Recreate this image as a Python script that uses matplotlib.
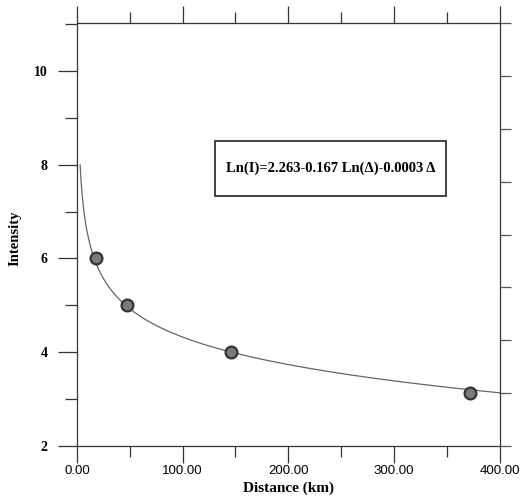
import numpy as np
import matplotlib.pyplot as plt
from matplotlib.patches import Rectangle
from matplotlib.ticker import MultipleLocator, FixedLocator, NullFormatter

# observed intensities
distance = [18, 47, 146, 372]
intensity = [6.0, 5.0, 4.0, 3.13]

# attenuation fit: Ln(I) = a + b Ln(D) + c D
a, b, c = 2.263, -0.167, -0.0003
fit_start, fit_end = 3, 400

x_ticks = [0, 100, 200, 300, 400]
x_labels = ['0.00', '100.00', '200.00', '300.00', '400.00']
y_ticks = [2, 4, 6, 8, 10]

SERIF = 'Liberation Serif'
SANS = 'Liberation Sans'

fig = plt.figure(figsize=(5.2, 4.97), dpi=100)
ax = fig.add_axes([0.148, 0.1026, 0.813, 0.851])

d = np.linspace(fit_start, fit_end, 400)
ax.plot(d, np.exp(a + b * np.log(d) + c * d), color='#666666', lw=0.9, zorder=2)
ax.plot(distance, intensity, 'o', ms=8.5, mfc='#7a7a7a', mec='#333333', mew=1.6, zorder=3)

ax.set_xlim(0, 400)
ax.set_ylim(2, 11.02)

for s in ax.spines.values():
    s.set_color('#333333')
    s.set_linewidth(0.9)

ax.xaxis.set_major_locator(FixedLocator(x_ticks))
ax.xaxis.set_minor_locator(MultipleLocator(50))
ax.set_xticklabels(x_labels, fontfamily=SANS, fontsize=9.5)
ax.yaxis.set_major_locator(FixedLocator(y_ticks))
ax.yaxis.set_minor_locator(MultipleLocator(1))
ax.set_yticklabels([str(v) for v in y_ticks], fontfamily=SERIF, fontweight='bold', fontsize=10)

ax.tick_params(axis='x', which='major', direction='out', length=12, width=0.9, color='#333333',
               top=True, pad=1.5)
ax.tick_params(axis='x', which='minor', direction='out', length=8, width=0.9, color='#333333', top=True)
ax.tick_params(axis='y', which='major', direction='out', length=14, width=0.9, color='#333333', pad=7)
ax.tick_params(axis='y', which='minor', direction='out', length=9, width=0.9, color='#333333')

# right-hand axis has its own 8 equal divisions, unlabeled
ax2 = ax.twinx()
ax2.set_ylim(0, 8)
ax2.yaxis.set_major_locator(MultipleLocator(1))
ax2.yaxis.set_major_formatter(NullFormatter())
ax2.tick_params(axis='y', direction='out', length=8, width=0.9, color='#555555')
for s in ax2.spines.values():
    s.set_visible(False)

fig.text(0.555, 0.004, 'Distance (km)', fontfamily=SERIF, fontweight='bold', fontsize=11,
         ha='center', va='bottom')
fig.text(0.029, 0.52, 'Intensity', fontfamily=SERIF, fontweight='bold', fontsize=10.5,
         rotation=90, ha='center', va='center')

# equation box
ax.add_patch(Rectangle((0.326, 0.592), 0.548, 0.128, transform=ax.transAxes, fc='white',
                       ec='#222222', lw=1.2, zorder=4))
ax.text(0.601, 0.656, 'Ln(I)=2.263-0.167 Ln(\u0394)-0.0003 \u0394', transform=ax.transAxes,
        fontfamily=SERIF, fontweight='bold', fontsize=10.5, ha='center', va='center', zorder=5)

fig.savefig('out.png', dpi=100)
